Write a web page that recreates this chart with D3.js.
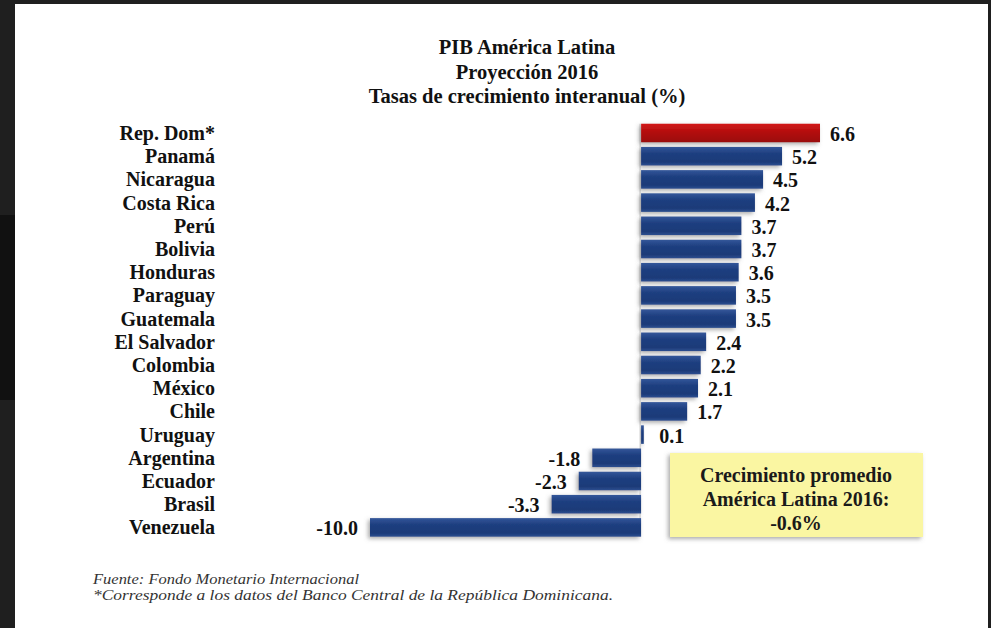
<!DOCTYPE html>
<html>
<head>
<meta charset="utf-8">
<script src="https://cdn.jsdelivr.net/npm/d3@7"></script>
<style>
  body { margin: 0; background: #1e1e1e; }
  svg { display: block; }
  text { font-family: "Liberation Serif", "Times New Roman", "DejaVu Serif", serif; }
</style>
</head>
<body>
<div id="chart"></div>
<script>
const countries = ['Rep. Dom*', 'Panamá', 'Nicaragua', 'Costa Rica', 'Perú', 'Bolivia', 'Honduras',
  'Paraguay', 'Guatemala', 'El Salvador', 'Colombia', 'México', 'Chile', 'Uruguay',
  'Argentina', 'Ecuador', 'Brasil', 'Venezuela'];
const growth = [6.6, 5.2, 4.5, 4.2, 3.7, 3.7, 3.6, 3.5, 3.5, 2.4, 2.2, 2.1, 1.7, 0.1, -1.8, -2.3, -3.3, -10.0];
const highlight = 'Rep. Dom*';

const titleLines = ['PIB América Latina', 'Proyección 2016', 'Tasas de crecimiento interanual (%)'];
const boxLines = ['Crecimiento promedio', 'América Latina 2016:', '-0.6%'];
const noteLines = ['Fuente: Fondo Monetario Internacional',
  '*Corresponde a los datos del Banco Central de la República Dominicana.'];
const noteWidths = [266, 520];

const width = 991, height = 628;

const svg = d3.select('#chart')
  .append('svg')
  .attr('width', width)
  .attr('height', height);

const defs = svg.append('defs');

const blue = defs.append('linearGradient').attr('id', 'gBlue')
  .attr('x1', 0).attr('y1', 0).attr('x2', 0).attr('y2', 1);
blue.append('stop').attr('offset', '0%').attr('stop-color', '#34579a');
blue.append('stop').attr('offset', '35%').attr('stop-color', '#1f3f80');
blue.append('stop').attr('offset', '80%').attr('stop-color', '#1c3a78');
blue.append('stop').attr('offset', '100%').attr('stop-color', '#2d4f90');

const red = defs.append('linearGradient').attr('id', 'gRed')
  .attr('x1', 0).attr('y1', 0).attr('x2', 0).attr('y2', 1);
red.append('stop').attr('offset', '0%').attr('stop-color', '#d21a1a');
red.append('stop').attr('offset', '45%').attr('stop-color', '#b30d0d');
red.append('stop').attr('offset', '100%').attr('stop-color', '#9a0808');

const shadow = defs.append('filter').attr('id', 'shadow')
  .attr('x', '-20%').attr('y', '-40%').attr('width', '140%').attr('height', '200%');
shadow.append('feDropShadow')
  .attr('dx', -2).attr('dy', 2).attr('stdDeviation', 2)
  .attr('flood-color', '#666').attr('flood-opacity', 0.55);

// dark screen frame around the picture
svg.append('rect').attr('width', width).attr('height', height).attr('fill', '#1f1f1f');
svg.append('rect').attr('x', 0).attr('y', 215).attr('width', 15).attr('height', 185).attr('fill', '#111');
svg.append('rect').attr('x', 15).attr('y', 4).attr('width', 973).attr('height', 624).attr('fill', '#fff');

// title
svg.append('g')
  .selectAll('text')
  .data(titleLines)
  .join('text')
  .attr('x', 527)
  .attr('y', (d, i) => 54 + i * 24.5)
  .attr('text-anchor', 'middle')
  .attr('font-size', 20.5)
  .attr('font-weight', 'bold')
  .attr('fill', '#111')
  .text(d => d);

const x = d3.scaleLinear()
  .domain([-10, 6.6])
  .range([370, 820]);

const y = d3.scaleBand()
  .domain(countries)
  .range([121.4, 121.4 + 23.2 * countries.length])
  .paddingInner(0.2)
  .paddingOuter(0.1);

const rows = countries.map((c, i) => ({ name: c, value: growth[i] }));

// faint zero line
svg.append('line')
  .attr('x1', x(0) - 1).attr('x2', x(0) - 1)
  .attr('y1', y(countries[0])).attr('y2', y(countries[countries.length - 1]) + y.bandwidth())
  .attr('stroke', '#c8c8c8')
  .attr('stroke-width', 1);

svg.append('g')
  .selectAll('rect')
  .data(rows)
  .join('rect')
  .attr('x', d => x(Math.min(0, d.value)))
  .attr('y', d => y(d.name))
  .attr('width', d => Math.max(2, Math.abs(x(d.value) - x(0))))
  .attr('height', y.bandwidth())
  .attr('fill', d => d.name === highlight ? 'url(#gRed)' : 'url(#gBlue)')
  .attr('filter', 'url(#shadow)');

// country labels
svg.append('g')
  .selectAll('text')
  .data(rows)
  .join('text')
  .attr('x', 215)
  .attr('y', d => y(d.name) + y.bandwidth() / 2 + 7)
  .attr('text-anchor', 'end')
  .attr('font-size', 20)
  .attr('font-weight', 'bold')
  .attr('fill', '#111')
  .text(d => d.name);

// value labels (plain hyphen for negatives, as in the source)
const fmt = v => v.toFixed(1);
svg.append('g')
  .selectAll('text')
  .data(rows)
  .join('text')
  .attr('x', d => d.value >= 0 ? x(Math.max(d.value, 0.3)) + 10 : x(d.value) - 12)
  .attr('y', d => y(d.name) + y.bandwidth() / 2 + 8)
  .attr('text-anchor', d => d.value >= 0 ? 'start' : 'end')
  .attr('font-size', 20)
  .attr('font-weight', 'bold')
  .attr('fill', '#111')
  .text(d => fmt(d.value));

// average box
const box = svg.append('g');
box.append('rect')
  .attr('x', 670).attr('y', 453)
  .attr('width', 253).attr('height', 84)
  .attr('fill', '#faf6a2')
  .attr('filter', 'url(#shadow)');
box.selectAll('text')
  .data(boxLines)
  .join('text')
  .attr('x', 796)
  .attr('y', (d, i) => 482 + i * 24)
  .attr('text-anchor', 'middle')
  .attr('font-size', 20)
  .attr('font-weight', 'bold')
  .attr('fill', '#1a1a1a')
  .text(d => d);

// footnotes
svg.append('g')
  .selectAll('text')
  .data(noteLines)
  .join('text')
  .attr('x', 93)
  .attr('y', (d, i) => 584 + i * 16)
  .attr('font-family', '"DejaVu Serif", "Liberation Serif", serif')
  .attr('font-size', 14)
  .attr('font-style', 'italic')
  .attr('textLength', (d, i) => noteWidths[i])
  .attr('lengthAdjust', 'spacingAndGlyphs')
  .attr('fill', '#333')
  .text(d => d);
</script>
</body>
</html>
